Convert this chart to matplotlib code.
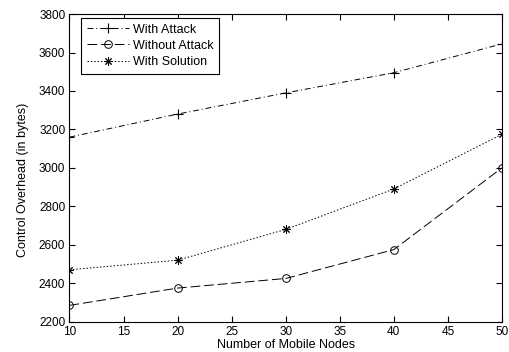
import numpy as np
import matplotlib
matplotlib.use('Agg')
import matplotlib.pyplot as plt

nodes = [10, 20, 30, 40, 50]
with_attack = [3160, 3280, 3390, 3495, 3645]
without_attack = [2285, 2375, 2425, 2575, 3000]
with_solution = [2470, 2520, 2680, 2890, 3175]

plt.rcParams['font.family'] = ['Liberation Sans', 'DejaVu Sans']
plt.rcParams['font.size'] = 9

fig = plt.figure(figsize=(5.09, 3.52), dpi=100)
ax = fig.add_axes([0.1365, 0.086, 0.8495, 0.874])

# asterisk marker, 8 arms like the old-style plot symbol
star = (8, 2, 0)

ax.plot(nodes, with_attack, color='k', lw=0.7, dashes=(6, 3, 1, 3),
        marker='+', ms=7, mew=0.8, label='With Attack')
ax.plot(nodes, without_attack, color='k', lw=0.7, dashes=(10, 4),
        marker='o', ms=5.5, mfc='none', mew=0.7, label='Without Attack')
ax.plot(nodes, with_solution, color='k', lw=0.7, dashes=(1.5, 2),
        marker=star, ms=6, mew=0.7, label='With Solution')

ax.set_xlim(10, 50)
ax.set_ylim(2200, 3800)
ax.set_xticks(np.arange(10, 51, 5))
ax.set_yticks(np.arange(2200, 3801, 200))
ax.tick_params(direction='in', top=True, right=True, length=4, width=0.8,
               pad=3, labelsize=8.5)
for s in ax.spines.values():
    s.set_linewidth(0.8)

ax.set_xlabel('Number of Mobile Nodes', labelpad=1)
ax.set_ylabel('Control Overhead (in bytes)')
ax.yaxis.set_label_coords(-0.094, 0.46)

leg = ax.legend(loc='upper left', bbox_to_anchor=(0.0266, 0.987),
                numpoints=1, fancybox=False, framealpha=1, edgecolor='k',
                handlelength=3.4, borderaxespad=0, borderpad=0.45,
                labelspacing=0.33, handletextpad=0.3)
leg.get_frame().set_linewidth(0.8)

fig.savefig('out.png', dpi=100)
